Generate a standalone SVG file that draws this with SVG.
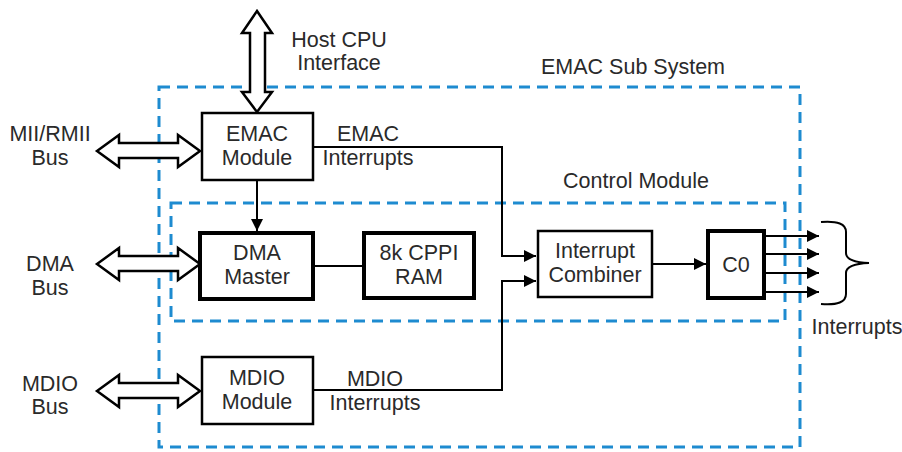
<svg xmlns="http://www.w3.org/2000/svg" width="902" height="452" viewBox="0 0 902 452">
<defs>
<style>
text{font-family:"Liberation Sans",Arial,sans-serif;font-size:21.5px;fill:#2a2a2a;text-anchor:middle}
.box{fill:#fff;stroke:#000;stroke-width:2.5}
.thick{stroke-width:4}
.dash{fill:none;stroke:#1e8bd0;stroke-width:3;stroke-dasharray:11 7}
.bus{fill:#fff;stroke:#000;stroke-width:2.5;stroke-linejoin:miter}
.line{fill:none;stroke:#000;stroke-width:2}
</style>
<marker id="ah2" viewBox="0 0 10 10" refX="10" refY="5" markerWidth="12" markerHeight="12" markerUnits="userSpaceOnUse" orient="auto">
<path d="M0,0 L10,5 L0,10 z" fill="#000"/>
</marker>
</defs>
<rect width="902" height="452" fill="#fff"/>

<g id="emac-subsystem">
<rect class="dash" x="159" y="87" width="641" height="360"/>
<text x="633" y="74">EMAC Sub System</text>
</g>
<g id="control-module">
<rect class="dash" x="171" y="203" width="614" height="118"/>
<text x="636" y="188">Control Module</text>
</g>

<g id="buses">
<polygon class="bus" points="257,11 272,33 265,33 265,92 272,92 257,112 242,92 250,92 250,33 242,33"/>
<polygon class="bus" points="97,151 119,135 119,143 178,143 178,135 200,151 178,167 178,158 119,158 119,167"/>
<polygon class="bus" points="97,264 119,248 119,256 178,256 178,248 200,264 178,280 178,271 119,271 119,280"/>
<polygon class="bus" points="97,391 119,375 119,383 178,383 178,375 200,391 178,407 178,398 119,398 119,407"/>
</g>

<g id="labels">
<text x="339" y="47">Host CPU</text>
<text x="339" y="70">Interface</text>
<text x="50" y="141">MII/RMII</text>
<text x="50" y="165">Bus</text>
<text x="50" y="271">DMA</text>
<text x="50" y="295">Bus</text>
<text x="50" y="391">MDIO</text>
<text x="50" y="414">Bus</text>
<text x="857" y="334">Interrupts</text>
</g>

<g id="emac-module">
<rect class="box" x="202" y="113" width="111" height="67"/>
<text x="257" y="141">EMAC</text>
<text x="257" y="165">Module</text>
</g>
<g id="dma-master">
<rect class="box thick" x="200" y="233" width="113" height="66"/>
<text x="257" y="260">DMA</text>
<text x="257" y="284">Master</text>
</g>
<g id="cppi-ram">
<rect class="box thick" x="364" y="233" width="110" height="65"/>
<text x="419" y="260">8k CPPI</text>
<text x="419" y="284">RAM</text>
</g>
<g id="interrupt-combiner">
<rect class="box" x="538" y="231" width="114" height="66"/>
<text x="595" y="258">Interrupt</text>
<text x="595" y="282">Combiner</text>
</g>
<g id="c0">
<rect class="box thick" x="708" y="231" width="56" height="67"/>
<text x="736" y="272">C0</text>
</g>
<g id="mdio-module">
<rect class="box" x="202" y="357" width="111" height="67"/>
<text x="257" y="385">MDIO</text>
<text x="257" y="409">Module</text>
</g>

<g id="connectors">
<line class="line" x1="257" y1="181" x2="257" y2="231" marker-end="url(#ah2)"/>
<line class="line" x1="313" y1="266" x2="364" y2="266"/>
<polyline class="line" points="313,147 502,147 502,256 536,256" marker-end="url(#ah2)"/>
<polyline class="line" points="313,390 502,390 502,281 536,281" marker-end="url(#ah2)"/>
<line class="line" x1="652" y1="264" x2="706" y2="264" marker-end="url(#ah2)"/>
<line class="line" x1="764" y1="236" x2="819" y2="236" marker-end="url(#ah2)"/>
<line class="line" x1="764" y1="254" x2="819" y2="254" marker-end="url(#ah2)"/>
<line class="line" x1="764" y1="273" x2="819" y2="273" marker-end="url(#ah2)"/>
<line class="line" x1="764" y1="292" x2="819" y2="292" marker-end="url(#ah2)"/>
<text x="368" y="141">EMAC</text>
<text x="368" y="165">Interrupts</text>
<text x="375" y="386">MDIO</text>
<text x="375" y="410">Interrupts</text>
<path class="line" d="M821,222 Q846,220 846,232 L846,253 Q846,262 869,263 Q846,264 846,273 L846,294 Q846,306 821,304" stroke-width="1.8"/>
</g>
</svg>
